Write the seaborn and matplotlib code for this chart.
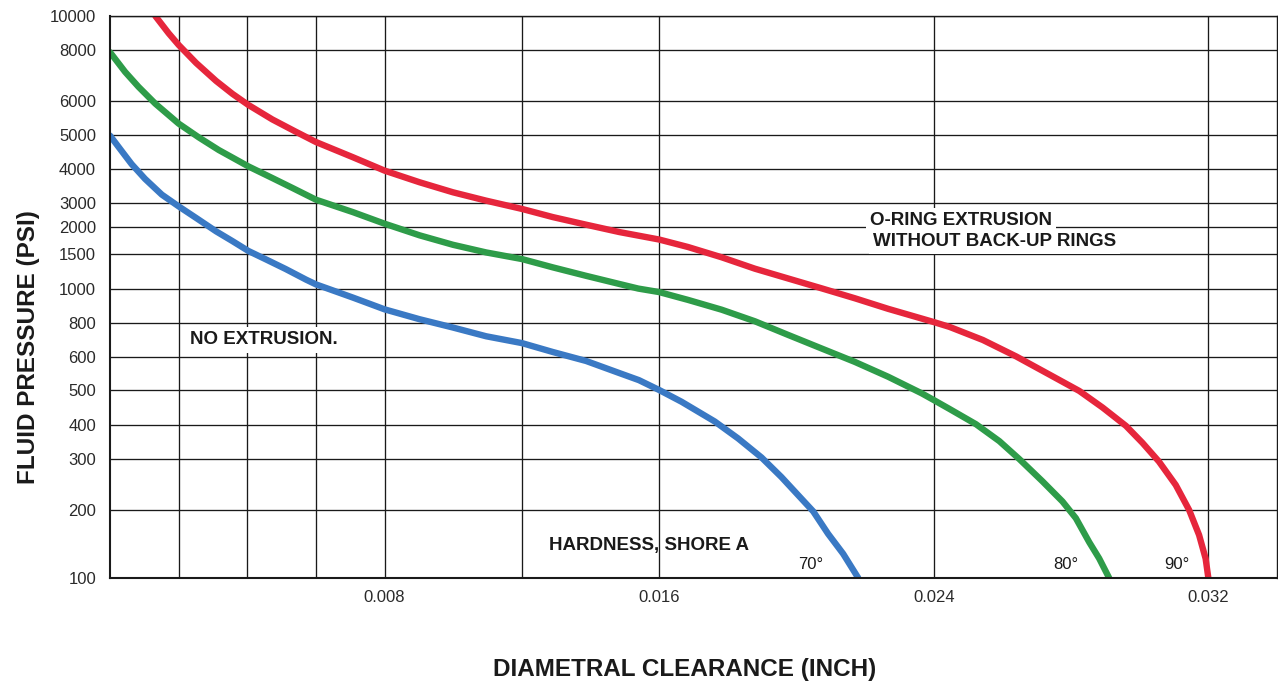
import numpy as np
import pandas as pd
import matplotlib
matplotlib.use("Agg")
import matplotlib.pyplot as plt
import seaborn as sns

# Values (clearance in inch, pressure in psi)
x_70 = [0, 0.00034, 0.00063, 0.00102, 0.00151, 0.002, 0.00251, 0.00309, 0.00357,
        0.00403, 0.00454, 0.00512, 0.00571, 0.006, 0.00708, 0.008, 0.00902,
        0.00999, 0.01096, 0.012, 0.0129, 0.01387, 0.01484, 0.01541, 0.016,
        0.01665, 0.01762, 0.0183, 0.01898, 0.01956, 0.02005, 0.02049, 0.02092,
        0.02136, 0.0218]
y_70 = [4980, 4500, 4130, 3680, 3220, 2835, 2330, 1910, 1720,
        1550, 1410, 1260, 1115, 1055, 945, 875, 820,
        770, 715, 675, 626, 587, 549, 528, 500,
        464, 409, 357, 304, 260, 225, 197, 157,
        128, 100]

x_80 = [0, 0.00044, 0.00083, 0.00132, 0.002, 0.00259, 0.00317, 0.00403, 0.00473,
        0.00532, 0.006, 0.00708, 0.008, 0.00902, 0.00999, 0.01096, 0.012,
        0.0129, 0.01387, 0.01484, 0.01539, 0.016, 0.01684, 0.01782, 0.01879,
        0.01976, 0.02073, 0.0217, 0.02267, 0.02364, 0.024, 0.02446, 0.02523,
        0.02591, 0.02649, 0.02717, 0.02775, 0.02814, 0.02853, 0.02882, 0.02911]
y_80 = [7900, 7070, 6500, 5915, 5315, 4920, 4530, 4070, 3705,
        3405, 3085, 2570, 2115, 1830, 1655, 1525, 1415,
        1285, 1165, 1060, 1005, 980, 931, 873, 809,
        723, 645, 584, 538, 490, 469, 443, 402,
        349, 300, 251, 214, 184, 144, 122, 100]

x_90 = [0.00132, 0.00171, 0.002, 0.00251, 0.00309, 0.00357, 0.00403, 0.00473,
        0.0054, 0.006, 0.00708, 0.008, 0.00902, 0.00999, 0.01096, 0.012,
        0.0129, 0.01387, 0.01484, 0.016, 0.01684, 0.01782, 0.01879, 0.01976,
        0.02073, 0.0217, 0.02267, 0.024, 0.02446, 0.02543, 0.0264, 0.02736,
        0.02824, 0.02892, 0.0296, 0.03008, 0.03056, 0.03105, 0.03144, 0.03173,
        0.03192, 0.032]
y_90 = [10000, 8925, 8270, 7435, 6720, 6245, 5875, 5435,
        5095, 4775, 4320, 3945, 3575, 3285, 3060, 2715,
        2365, 2080, 1895, 1750, 1616, 1444, 1265, 1129,
        1008, 941, 878, 805, 774, 693, 603, 545,
        497, 447, 397, 344, 294, 244, 200, 155,
        122, 100]

hardness = ["70°", "80°", "90°"]
psi_ticks = [100, 200, 300, 400, 500, 600, 800, 1000, 1500, 2000, 3000,
             4000, 5000, 6000, 8000, 10000]
clearance_labels = [0.008, 0.016, 0.024, 0.032]
clearance_grid = [0.002, 0.004, 0.006, 0.012]

# The printed chart uses an irregular pressure scale; rows measured from the bottom
row_height = [0, 68, 119, 153, 188, 221, 255, 289, 324, 351, 375, 409, 443,
              477, 528, 562]
log_ticks = np.log10(psi_ticks)


def fwd(v):
    v = np.clip(np.asarray(v, dtype=float), 1e-9, None)
    return np.interp(np.log10(v), log_ticks, row_height)


def inv(r):
    return 10 ** np.interp(np.asarray(r, dtype=float), row_height, log_ticks)


df = pd.concat([
    pd.DataFrame({"clearance": x_70, "pressure": y_70, "hardness": hardness[0]}),
    pd.DataFrame({"clearance": x_80, "pressure": y_80, "hardness": hardness[1]}),
    pd.DataFrame({"clearance": x_90, "pressure": y_90, "hardness": hardness[2]}),
])

sns.set_theme(style="white")
plt.rcParams["font.family"] = ["Liberation Sans", "DejaVu Sans"]

fig = plt.figure(figsize=(12.78, 6.87), dpi=100)
ax = fig.add_axes([110 / 1278, 1 - 578 / 687, 1167 / 1278, 562 / 687])

ax.set_yscale("function", functions=(fwd, inv))
ax.set_ylim(100, 10000)
ax.set_xlim(0, 0.034)

palette = {"70°": "#3a79c4", "80°": "#2e9c49", "90°": "#e6263c"}
sns.lineplot(data=df, x="clearance", y="pressure", hue="hardness", palette=palette,
             estimator=None, sort=False, lw=4.6, legend=False, ax=ax)
for ln in ax.lines:
    ln.set_solid_joinstyle("round")

ax.set_yticks(psi_ticks, labels=[str(v) for v in psi_ticks])
ax.set_xticks(clearance_labels, labels=[f"{v:.3f}" for v in clearance_labels])
ax.set_xticks(clearance_grid, minor=True)
ax.tick_params(axis="both", which="both", length=0, colors="#2a2a2a")
ax.tick_params(axis="y", labelsize=12, pad=10)
ax.tick_params(axis="x", labelsize=12, pad=9)
ax.grid(True, which="both", color="#1a1a1a", lw=0.95)
ax.set_axisbelow(True)
for side in ax.spines.values():
    side.set_color("#1a1a1a")
    side.set_linewidth(1.0)
ax.spines["left"].set_linewidth(1.5)
ax.spines["bottom"].set_linewidth(1.5)

ax.set_xlabel("")
ax.set_ylabel("")
fig.text(0.022, 0.495, "FLUID PRESSURE (PSI)", rotation=90, ha="center", va="center",
         fontsize=17.5, fontweight="bold", color="#1a1a1a")
fig.text(0.536, 0.025, "DIAMETRAL CLEARANCE (INCH)", ha="center", va="center",
         fontsize=17.5, fontweight="bold", color="#1a1a1a")

box = dict(facecolor="white", edgecolor="none", pad=3)
note = dict(fontsize=13.5, fontweight="bold", color="#1a1a1a", transform=ax.transAxes)
ax.text(0.0686, 0.4235, "NO EXTRUSION.", ha="left", va="center", bbox=box, **note)
ax.text(0.6512, 0.636, "O-RING EXTRUSION", ha="left", va="center", bbox=box, **note)
ax.text(0.6538, 0.5988, "WITHOUT BACK-UP RINGS", ha="left", va="center", bbox=box, **note)
ax.text(0.3762, 0.0587, "HARDNESS, SHORE A", ha="left", va="center", **note)
for label, xpos in zip(hardness, [0.5895, 0.808, 0.9032]):
    ax.text(xpos, 0.0249, label, ha="left", va="center", fontsize=12,
            color="#1a1a1a", transform=ax.transAxes)

fig.savefig("out.png", dpi=100)
